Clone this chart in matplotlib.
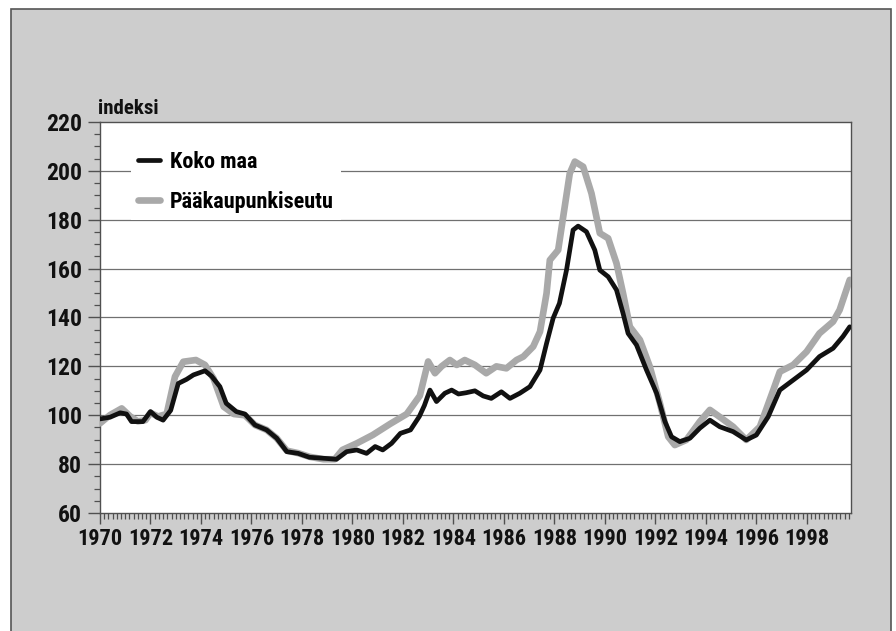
import matplotlib
matplotlib.use("Agg")
import matplotlib.pyplot as plt
import matplotlib.font_manager as fm
from matplotlib.patches import Rectangle
from matplotlib.ticker import MultipleLocator

# ---------------- data ----------------
years_koko = [1970.0, 1970.4, 1970.8, 1971.05, 1971.25, 1971.7, 1972.0, 1972.25, 1972.5,
              1972.8, 1973.1, 1973.43, 1973.7, 1974.16, 1974.42, 1974.75, 1975.0, 1975.4,
              1975.74, 1976.14, 1976.6, 1977.0, 1977.4, 1977.85, 1978.3, 1978.85, 1979.37,
              1979.77, 1980.17, 1980.56, 1980.9, 1981.2, 1981.55, 1981.9, 1982.3, 1982.65,
              1982.85, 1983.07, 1983.33, 1983.66, 1983.93, 1984.2, 1984.5, 1984.85, 1985.18,
              1985.5, 1985.9, 1986.24, 1986.63, 1987.03, 1987.43, 1987.69, 1987.95, 1988.2,
              1988.48, 1988.74, 1988.94, 1989.27, 1989.6, 1989.8, 1990.13, 1990.46, 1990.72,
              1990.92, 1991.25, 1991.65, 1992.05, 1992.38, 1992.64, 1992.97, 1993.37, 1993.76,
              1994.16, 1994.55, 1995.08, 1995.6, 1996.0, 1996.47, 1996.93, 1997.46, 1997.99,
              1998.5, 1999.04, 1999.43, 1999.7]
koko_maa = [98.5, 99.2, 101.0, 100.5, 97.4, 97.4, 101.5, 99.2, 98.0,
            102.0, 113.0, 114.7, 116.5, 118.2, 116.0, 111.7, 104.9, 101.5,
            100.5, 96.0, 94.0, 90.6, 85.1, 84.4, 82.8, 82.4, 82.0,
            85.1, 85.8, 84.4, 87.2, 85.8, 88.5, 92.6, 94.0, 99.5,
            104.0, 110.3, 105.6, 109.0, 110.3, 108.7, 109.2, 110.0, 107.9,
            106.9, 109.6, 106.9, 109.0, 111.7, 118.5, 129.4, 139.7, 145.8,
            159.4, 175.8, 177.4, 175.1, 167.6, 159.4, 156.7, 151.3, 141.7,
            133.5, 128.8, 118.5, 109.0, 97.4, 91.2, 89.2, 90.6, 94.7,
            98.0, 95.3, 93.3, 89.9, 91.9, 99.4, 110.3, 114.4, 118.5,
            124.0, 127.4, 132.2, 136.2]

years_paak = [1970.0, 1970.4, 1970.86, 1971.2, 1971.5, 1971.8, 1972.0, 1972.3, 1972.64,
              1972.97, 1973.3, 1973.8, 1974.16, 1974.5, 1974.9, 1975.3, 1975.74, 1976.14,
              1976.6, 1977.0, 1977.4, 1977.85, 1978.3, 1978.85, 1979.3, 1979.6, 1980.17,
              1980.8, 1981.5, 1982.15, 1982.67, 1983.0, 1983.27, 1983.53, 1983.86, 1984.13,
              1984.45, 1984.85, 1985.3, 1985.7, 1986.1, 1986.5, 1986.77, 1987.16, 1987.43,
              1987.69, 1987.82, 1988.15, 1988.35, 1988.61, 1988.81, 1989.14, 1989.47, 1989.8,
              1990.13, 1990.46, 1990.72, 1990.99, 1991.39, 1991.78, 1992.18, 1992.51, 1992.77,
              1993.23, 1993.76, 1994.16, 1994.62, 1995.08, 1995.6, 1996.14, 1996.67, 1996.93,
              1997.46, 1997.99, 1998.5, 1999.04, 1999.3, 1999.7]
paakaupunkiseutu = [96.7, 100.1, 102.8, 99.5, 97.5, 98.0, 101.0, 99.5, 100.5,
                    115.8, 121.9, 122.6, 120.6, 115.0, 103.5, 100.5, 100.0, 96.0,
                    94.0, 90.6, 85.5, 84.5, 83.0, 82.0, 82.0, 85.8, 88.5,
                    91.9, 96.5, 100.5, 108.0, 122.0, 117.2, 120.0, 122.6, 120.6,
                    122.6, 120.6, 117.2, 120.0, 119.2, 122.6, 124.0, 128.1, 134.2,
                    149.9, 163.5, 167.6, 181.3, 199.0, 203.8, 201.7, 190.8, 174.5,
                    172.4, 162.2, 149.9, 136.2, 130.8, 119.9, 104.9, 91.2, 87.8,
                    89.9, 97.4, 102.2, 98.8, 95.3, 89.9, 95.3, 110.3, 117.8,
                    120.6, 126.0, 133.5, 138.3, 143.1, 155.4]

series_labels = ["Koko maa", "Pääkaupunkiseutu"]
x_ticks = list(range(1970, 2000, 2))
y_ticks = list(range(60, 221, 20))
y_label = "indeksi"

# ---------------- font ----------------
available = {f.name for f in fm.fontManager.ttflist}
family = [n for n in ["Liberation Sans Narrow", "Roboto Condensed", "Open Sans Condensed",
                      "Liberation Sans", "DejaVu Sans"] if n in available]
plt.rcParams["font.family"] = family
plt.rcParams["font.weight"] = "bold"
FS = 16

# ---------------- figure ----------------
W, H = 896, 631
fig = plt.figure(figsize=(W / 100, H / 100), dpi=100, facecolor="white")

# gray panel with border (drawn behind the axes)
panel = Rectangle((11 / W, -0.02), (891 - 11) / W, 1 - 9 / H + 0.02,
                  transform=fig.transFigure, facecolor="#cdcdcd",
                  edgecolor="#555555", linewidth=1.2, zorder=-10)
fig.patches.append(panel)

ax = fig.add_axes([100 / W, 1 - 513 / H, 751 / W, 391 / H])
ax.set_zorder(1)
ax.set_facecolor("white")

ax.plot(years_paak, paakaupunkiseutu, color="#a9a9a9", lw=4.8,
        solid_joinstyle="round", solid_capstyle="round", label=series_labels[1], zorder=3)
ax.plot(years_koko, koko_maa, color="#111111", lw=3.4,
        solid_joinstyle="round", solid_capstyle="round", label=series_labels[0], zorder=4)

ax.set_xlim(1970, 1999.75)
ax.set_ylim(60, 220)
ax.set_xticks(x_ticks)
ax.set_xticklabels([str(t) for t in x_ticks])
ax.xaxis.set_minor_locator(MultipleLocator(1 / 6))
ax.set_yticks(y_ticks)
ax.yaxis.set_minor_locator(MultipleLocator(5))

for y in y_ticks[1:-1]:
    ax.axhline(y, color="#707070", lw=0.9, zorder=1)

for s in ax.spines.values():
    s.set_color("#505050")
    s.set_linewidth(1.0)

ax.tick_params(axis="both", which="major", direction="out", colors="#505050",
               labelcolor="#111111", width=1.0)
ax.tick_params(axis="y", which="major", length=9, pad=4, labelsize=FS + 1)
ax.tick_params(axis="y", which="minor", length=4, width=0.9, colors="#505050")
ax.tick_params(axis="x", which="major", length=8, pad=3, labelsize=FS)
ax.tick_params(axis="x", which="minor", length=4, width=0.9, colors="#505050")
for lab in ax.get_xticklabels() + ax.get_yticklabels():
    lab.set_fontweight("bold")

fig.text(98 / W, 1 - 114 / H, y_label, fontsize=FS - 1, fontweight="bold",
         color="#111111", ha="left", va="baseline", zorder=2)

handles, labels = ax.get_legend_handles_labels()
order = [1, 0]
leg = ax.legend([handles[i] for i in order], [labels[i] for i in order],
                loc="upper left", bbox_to_anchor=(20 / 751, 1 - 11 / 391),
                frameon=True, facecolor="white", edgecolor="white", framealpha=1,
                fancybox=False, handlelength=1.0, handletextpad=0.45,
                labelspacing=0.83, borderpad=0.3, prop={"size": FS, "weight": "bold"})
leg.get_frame().set_linewidth(0)
leg.set_zorder(5)

fig.savefig("out.png", dpi=100, facecolor=fig.get_facecolor())
